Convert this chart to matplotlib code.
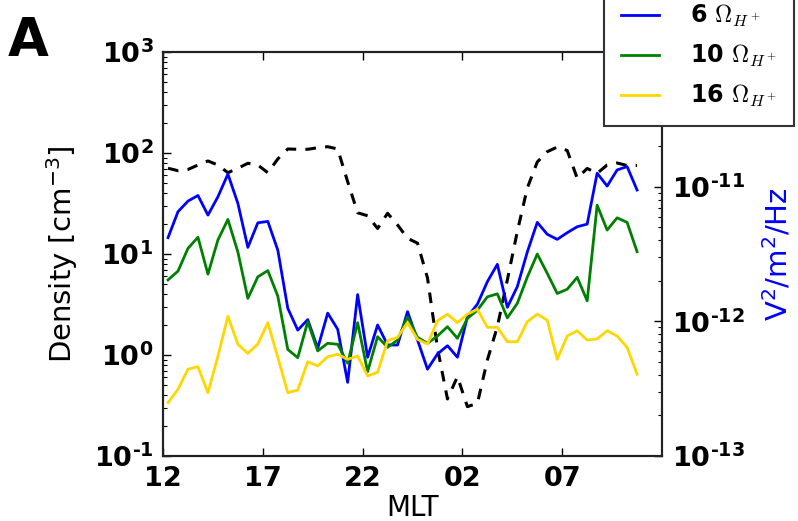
import numpy as np
import matplotlib.pyplot as plt
from matplotlib.ticker import FixedLocator, LogLocator, NullFormatter

# MLT bins: half-hour bins starting at 12 MLT
hours = np.arange(48) * 0.5 + 0.25
mlt_ticks = [0, 5, 10, 15, 20]
mlt_labels = ['12', '17', '22', '02', '07']

# plasma density [cm^-3]
density = [70.6, 66.8, 68.7, 76.0, 83.4, 76.0, 63.8, 70.6, 79.1, 76.0,
           63.8, 87.3, 109.6, 108.8, 108.8, 112.8, 115.4, 109.6, 52.0, 25.6,
           23.9, 17.9, 25.3, 19.4, 14.3, 12.8, 5.79, 1.17, 0.367, 0.610,
           0.308, 0.332, 0.892, 1.91, 5.53, 16.7, 45.0, 81.5, 103.0, 114.6,
           105.9, 56.2, 70.3, 62.9, 76.0, 79.6, 75.2, 75.2]

# wave power spectral density [V^2/m^2/Hz]
psd_6 = [4.18e-12, 6.52e-12, 7.81e-12, 8.60e-12, 6.15e-12, 8.41e-12, 1.24e-11, 7.51e-12,
         3.54e-12, 5.39e-12, 5.52e-12, 3.38e-12, 1.25e-12, 8.60e-13, 1.03e-12, 6.31e-13,
         1.15e-12, 8.73e-13, 3.52e-13, 1.58e-12, 5.41e-13, 9.40e-13, 6.67e-13, 6.67e-13,
         1.18e-12, 7.26e-13, 4.41e-13, 5.72e-13, 6.59e-13, 5.41e-13, 1.08e-12, 1.34e-12,
         1.97e-12, 2.65e-12, 1.27e-12, 1.81e-12, 3.27e-12, 5.43e-12, 4.43e-12, 4.06e-12,
         4.55e-12, 5.04e-12, 5.27e-12, 1.26e-11, 1.01e-11, 1.33e-11, 1.41e-11, 9.44e-12]
psd_10 = [2.03e-12, 2.36e-12, 3.48e-12, 4.21e-12, 2.24e-12, 4.02e-12, 5.71e-12, 3.27e-12,
          1.48e-12, 2.14e-12, 2.38e-12, 1.54e-12, 6.18e-13, 5.37e-13, 9.93e-13, 6.03e-13,
          6.87e-13, 6.75e-13, 4.88e-13, 9.77e-13, 4.23e-13, 7.69e-13, 6.41e-13, 7.26e-13,
          1.08e-12, 7.60e-13, 6.87e-13, 7.78e-13, 9.12e-13, 7.48e-13, 1.05e-12, 1.21e-12,
          1.52e-12, 1.60e-12, 1.06e-12, 1.36e-12, 2.13e-12, 3.16e-12, 2.27e-12, 1.61e-12,
          1.73e-12, 2.12e-12, 1.42e-12, 7.29e-12, 4.76e-12, 5.87e-12, 5.43e-12, 3.29e-12]
psd_16 = [2.49e-13, 3.13e-13, 4.41e-13, 4.60e-13, 2.95e-13, 5.52e-13, 1.09e-12, 6.75e-13,
          5.78e-13, 6.78e-13, 9.77e-13, 5.41e-13, 2.95e-13, 3.09e-13, 5.01e-13, 4.66e-13,
          5.46e-13, 5.69e-13, 5.22e-13, 5.52e-13, 3.93e-13, 4.18e-13, 7.18e-13, 7.60e-13,
          9.77e-13, 7.34e-13, 6.78e-13, 1.01e-12, 1.13e-12, 9.77e-13, 1.13e-12, 1.23e-12,
          9.02e-13, 9.02e-13, 7.06e-13, 7.06e-13, 9.93e-13, 1.13e-12, 1.02e-12, 5.22e-13,
          7.78e-13, 8.51e-13, 7.26e-13, 7.40e-13, 8.51e-13, 7.78e-13, 6.41e-13, 4.05e-13]

dens_ticks = [1e-1, 1e0, 1e1, 1e2, 1e3]
dens_labels = [r'$\mathbf{10^{‐1}}$', r'$\mathbf{10^{0}}$', r'$\mathbf{10^{1}}$',
               r'$\mathbf{10^{2}}$', r'$\mathbf{10^{3}}$']
psd_ticks = [1e-13, 1e-12, 1e-11, 1e-10]
# top label sits under the legend box, left blank
psd_labels = [r'$\mathbf{10^{‐13}}$', r'$\mathbf{10^{‐12}}$', r'$\mathbf{10^{‐11}}$', '']

plt.rcParams['mathtext.fontset'] = 'dejavusans'

fig = plt.figure(figsize=(7.98, 5.21), dpi=100)
ax = fig.add_axes([0.2043, 0.1248, 0.6253, 0.7754])
ax2 = ax.twinx()

# density on the left axis
ax.plot(hours, density, color='black', lw=2.2, ls=(0, (3.5, 3)))
ax.set_yscale('log')
ax.set_ylim(1e-1, 1e3)
ax.set_xlim(0, 25)
ax.yaxis.set_major_locator(FixedLocator(dens_ticks))
ax.set_yticklabels(dens_labels)
ax.yaxis.set_minor_locator(LogLocator(subs=np.arange(2, 10)))
ax.yaxis.set_minor_formatter(NullFormatter())
ax.set_xticks(mlt_ticks)
ax.set_xticklabels(mlt_labels, fontweight='bold')
ax.set_xlabel('MLT', fontsize=20, labelpad=2)
ax.set_ylabel(r'Density [cm$^{-3}$]', fontsize=21, labelpad=10)

# wave power on the right axis
l1, = ax2.plot(hours, psd_6, color='#0000ff', lw=2)
l2, = ax2.plot(hours, psd_10, color='#008000', lw=2)
l3, = ax2.plot(hours, psd_16, color='#ffd700', lw=2)
ax2.set_yscale('log')
ax2.set_ylim(1e-13, 1e-10)
ax2.yaxis.set_major_locator(FixedLocator(psd_ticks))
ax2.set_yticklabels(psd_labels)
ax2.yaxis.set_minor_locator(LogLocator(subs=np.arange(2, 10)))
ax2.yaxis.set_minor_formatter(NullFormatter())
ax2.set_ylabel(r'V$^2$/m$^2$/Hz', fontsize=21, color='#0000ff', labelpad=12)

for a in (ax, ax2):
    a.tick_params(which='both', direction='in', labelsize=19.5, pad=7)
    a.tick_params(which='major', length=6, width=1)
    a.tick_params(which='minor', length=3, width=0.8)
    for s in a.spines.values():
        s.set_linewidth(1.5)
        s.set_color('#222222')
ax.tick_params(axis='x', top=True)

leg = ax2.legend([l1, l2, l3],
                 [r'6 $\Omega_{H^+}$', r'10 $\Omega_{H^+}$', r'16 $\Omega_{H^+}$'],
                 loc='lower left', bbox_to_anchor=(604 / 798, 1 - 126 / 521),
                 bbox_transform=fig.transFigure, fancybox=False, framealpha=1,
                 borderaxespad=0,
                 prop={'weight': 'bold', 'size': 17}, handlelength=1.65,
                 handletextpad=1.3, labelspacing=0.6, borderpad=0.7)
leg.get_frame().set_edgecolor('#333333')
leg.get_frame().set_linewidth(1.5)
for t in leg.get_texts():
    t.set_math_fontfamily('cm')

fig.text(0.01, 0.972, 'A', fontsize=38, fontweight='bold', va='top', ha='left')

fig.savefig('out.png', dpi=100)
